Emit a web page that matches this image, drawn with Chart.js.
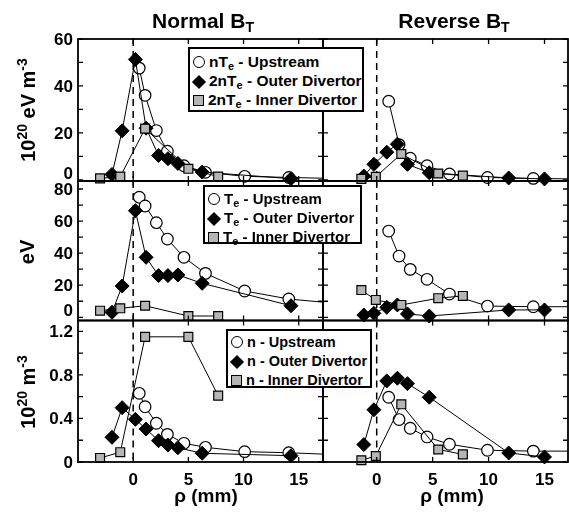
<!DOCTYPE html>
<html>
<head>
<meta charset="utf-8">
<script src="https://cdn.jsdelivr.net/npm/chart.js@4.4.1/dist/chart.umd.min.js"></script>
<style>
html, body { margin: 0; padding: 0; background: #fff; }
#wrap { position: relative; width: 569px; height: 514px; overflow: hidden;
        font-family: "Liberation Sans", Arial, sans-serif; font-weight: bold; color: #000; }
#wrap canvas { position: absolute; left: 0; top: 0; }
.txt { position: absolute; white-space: nowrap; z-index: 2; }
.ttl { font-size: 21px; transform: translateX(-50%); }
.ttl sub { font-size: 14px; vertical-align: -4px; }
.xl { font-size: 19px; transform: translateX(-50%); }
.yl { font-size: 20px; transform: translate(-50%, -50%) rotate(-90deg); }
.yl sup { font-size: 14px; vertical-align: 8px; }
.leg { position: absolute; z-index: 2; background: #fff; border: 2px solid #000;
       box-sizing: border-box; font-size: 15.5px; padding: 2px 0 0 3px; white-space: nowrap; }
.leg div { height: 19px; line-height: 19px; }
.leg sub { font-size: 11px; vertical-align: -3px; }
.mk { display: inline-block; box-sizing: border-box; margin-right: 4px; vertical-align: -1px; }
.mk.c { width: 12px; height: 12px; border: 1.3px solid #000; border-radius: 50%; background: #fff; }
.mk.d { width: 10px; height: 10px; background: #000; transform: rotate(45deg); margin: 0 5px 0 1px; }
.mk.s { width: 11px; height: 11px; border: 1.2px solid #000; background: #b5b5b5; }
</style>
</head>
<body>
<div id="wrap">
  <div class="txt ttl" style="left:203px; top:9px">Normal B<sub>T</sub></div>
  <div class="txt ttl" style="left:454px; top:9px">Reverse B<sub>T</sub></div>

  <div class="txt yl" style="left:27px; top:110px">10<sup>20</sup> eV m<sup>-3</sup></div>
  <div class="txt yl" style="left:27px; top:252px">eV</div>
  <div class="txt yl" style="left:27px; top:392px">10<sup>20</sup> m<sup>-3</sup></div>

  <div class="txt xl" style="left:206px; top:485px">&rho; (mm)</div>
  <div class="txt xl" style="left:452px; top:485px">&rho; (mm)</div>

  <div class="leg" style="left:188px; top:47px; width:176px; height:65px; padding-top:3px">
    <div><span class="mk c"></span>nT<sub>e</sub> - Upstream</div>
    <div><span class="mk d"></span>2nT<sub>e</sub> - Outer Divertor</div>
    <div><span class="mk s"></span>2nT<sub>e</sub> - Inner Divertor</div>
  </div>
  <div class="leg" style="left:203px; top:185px; width:159px; height:59px; font-size:15px">
    <div><span class="mk c"></span>T<sub>e</sub> - Upstream</div>
    <div><span class="mk d"></span>T<sub>e</sub> - Outer Divertor</div>
    <div><span class="mk s"></span>T<sub>e</sub> - Inner Divertor</div>
  </div>
  <div class="leg" style="left:226px; top:329px; width:146px; height:59px; font-size:14.5px">
    <div><span class="mk c"></span>n - Upstream</div>
    <div><span class="mk d"></span>n - Outer Divertor</div>
    <div><span class="mk s"></span>n - Inner Divertor</div>
  </div>
</div>

<script>
// rho positions (mm)
const normUpX  = [0.55, 1.08, 2.1, 3.1, 4.6, 6.55, 10.1, 14.1, 19];
const normOutX = [-1.92, -1.0, 0.2, 1.17, 2.3, 3.15, 4.05, 6.25, 14.3];
const normInX  = [-3.0, -1.17, 1.08, 5.0, 7.7];
const revUpX   = [1.07, 2.0, 3.0, 4.5, 6.5, 9.9, 14.0, 19];
const revOutX  = [-1.15, -0.25, 0.9, 1.85, 2.75, 4.7, 11.8, 15.0];
const revInX   = [-1.37, -0.08, 2.2, 5.5, 7.7];

// pressure, 10^20 eV m^-3
const normUpP  = [47.6, 36.0, 21.0, 12.2, 6.0, 3.2, 1.5, 1.0, 0.5];
const normOutP = [2.3, 20.9, 51.3, 22.0, 10.4, 9.0, 7.0, 3.3, 0.5];
const normInP  = [0.6, 1.4, 21.8, 4.7, 1.4];
const revUpP   = [33.5, 15.0, 9.2, 6.0, 2.5, 1.0, 0.6, 0.3];
const revOutP  = [1.6, 6.6, 11.8, 15.2, 6.6, 3.0, 0.8, 0.4];
const revInP   = [0.4, 1.3, 11.0, 2.7, 1.8];

// Te, eV
const normUpT  = [74.9, 69.4, 59.0, 48.8, 37.4, 27.4, 16.4, 11.4, 8.3];
const normOutT = [3.1, 19.5, 66.5, 37.4, 26.0, 26.0, 26.4, 21.2, 7.2];
const normInT  = [4.1, 5.6, 7.2, 0.8, 0.8];
const revUpT   = [53.8, 38.2, 29.9, 23.7, 14.5, 7.0, 6.6, 6.6];
const revOutT  = [1.4, 2.5, 6.2, 7.7, 2.1, 0.8, 4.6, 4.6];
const revInT   = [17.0, 10.8, 7.7, 11.9, 13.3];

// n, 10^20 m^-3
const normUpN  = [0.631, 0.508, 0.356, 0.254, 0.172, 0.135, 0.095, 0.085, 0.065];
const normOutN = [0.227, 0.499, 0.392, 0.303, 0.196, 0.156, 0.131, 0.080, 0.058];
const normInN  = [0.037, 0.090, 1.15, 1.15, 0.61];
const revUpN   = [0.595, 0.39, 0.31, 0.23, 0.163, 0.108, 0.10, 0.10];
const revOutN  = [0.16, 0.48, 0.745, 0.77, 0.72, 0.595, 0.083, 0.046];
const revInN   = [0.016, 0.055, 0.53, 0.115, 0.07];

// tick values
const xTicks  = [0, 5, 10, 15];
const pTicks  = [0, 20, 40, 60];
const pMinor  = [10, 30, 50];
const teTicks = [0, 20, 40, 60, 80];
const teMinor = [10, 30, 50, 70];
const nTicks  = [0, 0.4, 0.8, 1.2];
const nMinor  = [0.2, 0.6, 1.0];

const W = 569, H = 514;

const cols = [
  { left: 78,  right: 323, xMin: -5,   xMax: 17.2, showY: true },
  { left: 323, right: 568, xMin: -4.8, xMax: 17.1, showY: false }
];
const rows = [
  { top: 39,    bottom: 181,   yMin: -0.5, yMax: 60,  ticks: pTicks,  minor: pMinor,  showX: false },
  { top: 181,   bottom: 320.5, yMin: -2,   yMax: 85,  ticks: teTicks, minor: teMinor, showX: false },
  { top: 320.5, bottom: 462,   yMin: 0,    yMax: 1.3, ticks: nTicks,  minor: nMinor,  showX: true }
];

function pts(xs, ys) {
  return xs.map((x, i) => ({ x: x, y: ys[i] }));
}

// frame, inward ticks, labels and the dashed rho = 0 line
const boxPlugin = {
  id: 'box',
  beforeDatasetsDraw(chart) {
    const { ctx, chartArea: a, scales: { x } } = chart;
    const px = x.getPixelForValue(0);
    ctx.save();
    ctx.strokeStyle = '#000';
    ctx.lineWidth = 1.5;
    ctx.setLineDash([7, 5]);
    ctx.beginPath();
    ctx.moveTo(px, a.top);
    ctx.lineTo(px, a.bottom);
    ctx.stroke();
    ctx.restore();
  },
  afterDraw(chart, args, o) {
    const { ctx, chartArea: a, scales: { x, y } } = chart;
    ctx.save();
    ctx.strokeStyle = '#000';
    ctx.fillStyle = '#000';
    ctx.lineWidth = 1.8;
    ctx.strokeRect(a.left, a.top, a.right - a.left, a.bottom - a.top);

    ctx.lineWidth = 1.3;
    ctx.beginPath();
    o.yTicks.concat(o.yMinor).forEach(v => {
      const py = y.getPixelForValue(v);
      ctx.moveTo(a.left, py); ctx.lineTo(a.left + 5, py);
      ctx.moveTo(a.right, py); ctx.lineTo(a.right - 5, py);
    });
    xTicks.forEach(v => {
      const px = x.getPixelForValue(v);
      ctx.moveTo(px, a.bottom); ctx.lineTo(px, a.bottom - 5);
      ctx.moveTo(px, a.top); ctx.lineTo(px, a.top + 5);
    });
    ctx.stroke();

    ctx.font = 'bold 17px "Liberation Sans", Arial, sans-serif';
    if (o.showY) {
      ctx.textAlign = 'right';
      o.yTicks.forEach((v, i) => {
        const py = y.getPixelForValue(v);
        if (i === 0 && !o.showX) {
          ctx.textBaseline = 'bottom';
          ctx.fillText(String(v), a.left - 5, py + 3);
        } else {
          ctx.textBaseline = 'middle';
          ctx.fillText(String(v), a.left - 5, py + 1);
        }
      });
    }
    if (o.showX) {
      ctx.textAlign = 'center';
      ctx.textBaseline = 'middle';
      xTicks.forEach(v => {
        ctx.fillText(String(v), x.getPixelForValue(v), a.bottom + 18);
      });
    }
    ctx.restore();
  }
};

function makePanel(ci, ri, upX, upY, outX, outY, inX, inY) {
  const c = cols[ci], r = rows[ri];
  const canvas = document.createElement('canvas');
  canvas.width = W;
  canvas.height = H;
  document.getElementById('wrap').appendChild(canvas);

  const clip = { left: 10, top: 10, right: 0, bottom: 10 };
  const line = { showLine: true, borderColor: '#000', borderWidth: 1, tension: 0, clip: clip };

  new Chart(canvas, {
    type: 'scatter',
    data: {
      datasets: [
        Object.assign({
          label: 'Inner Divertor', data: pts(inX, inY),
          pointStyle: 'rect', pointRadius: 6.3,
          pointBackgroundColor: '#b5b5b5', pointBorderColor: '#000', pointBorderWidth: 1.2
        }, line),
        Object.assign({
          label: 'Outer Divertor', data: pts(outX, outY),
          pointStyle: 'rectRot', pointRadius: 7,
          pointBackgroundColor: '#000', pointBorderColor: '#000', pointBorderWidth: 1
        }, line),
        Object.assign({
          label: 'Upstream', data: pts(upX, upY),
          pointStyle: 'circle', pointRadius: 5.8,
          pointBackgroundColor: '#fff', pointBorderColor: '#000', pointBorderWidth: 1.2
        }, line)
      ]
    },
    options: {
      responsive: false,
      devicePixelRatio: 1,
      animation: false,
      events: [],
      layout: {
        autoPadding: false,
        padding: { left: c.left, right: W - c.right, top: r.top, bottom: H - r.bottom }
      },
      scales: {
        x: { type: 'linear', display: false, min: c.xMin, max: c.xMax },
        y: { type: 'linear', display: false, min: r.yMin, max: r.yMax }
      },
      plugins: {
        legend: { display: false },
        tooltip: { enabled: false },
        box: { yTicks: r.ticks, yMinor: r.minor, showY: c.showY, showX: r.showX }
      }
    },
    plugins: [boxPlugin]
  });
}

makePanel(0, 0, normUpX, normUpP, normOutX, normOutP, normInX, normInP);
makePanel(1, 0, revUpX, revUpP, revOutX, revOutP, revInX, revInP);
makePanel(0, 1, normUpX, normUpT, normOutX, normOutT, normInX, normInT);
makePanel(1, 1, revUpX, revUpT, revOutX, revOutT, revInX, revInT);
makePanel(0, 2, normUpX, normUpN, normOutX, normOutN, normInX, normInN);
makePanel(1, 2, revUpX, revUpN, revOutX, revOutN, revInX, revInN);
</script>
</body>
</html>
